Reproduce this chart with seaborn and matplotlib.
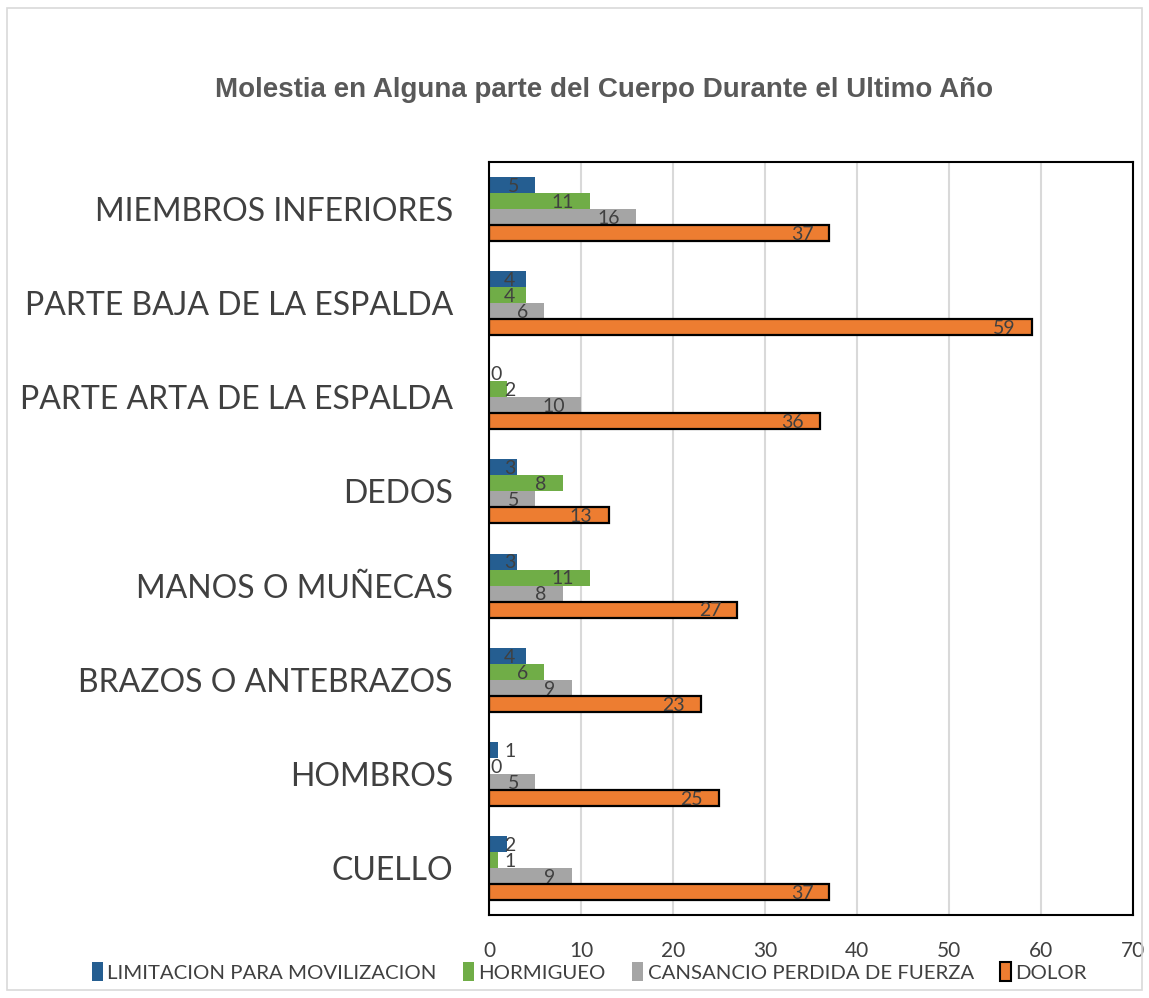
import pandas as pd
import seaborn as sns
import matplotlib.pyplot as plt
from matplotlib.patches import Rectangle, Patch

categorias = ['MIEMBROS INFERIORES', 'PARTE BAJA DE LA ESPALDA', 'PARTE ARTA DE LA ESPALDA',
              'DEDOS', 'MANOS O MUÑECAS', 'BRAZOS O ANTEBRAZOS', 'HOMBROS', 'CUELLO']
series = ['LIMITACION PARA MOVILIZACION', 'HORMIGUEO', 'CANSANCIO PERDIDA DE FUERZA', 'DOLOR']
limitacion = [5, 4, 0, 3, 3, 4, 1, 2]
hormigueo = [11, 4, 2, 8, 11, 6, 0, 1]
cansancio = [16, 6, 10, 5, 8, 9, 5, 9]
dolor = [37, 59, 36, 13, 27, 23, 25, 37]
colores = ['#255E91', '#70AD47', '#A5A5A5', '#ED7D31']

rows = []
for s, vals in zip(series, [limitacion, hormigueo, cansancio, dolor]):
    for c, v in zip(categorias, vals):
        rows.append({'categoria': c, 'serie': s, 'valor': v})
df = pd.DataFrame(rows)

sns.set_style('white')
plt.rcParams['font.family'] = ['Liberation Sans', 'DejaVu Sans']

fig = plt.figure(figsize=(11.49, 9.98), dpi=100)
ax = fig.add_axes([0.4256, 0.0832, 0.5605, 0.7545])

sns.barplot(data=df, y='categoria', x='valor', hue='serie', order=categorias,
            hue_order=series, palette=colores, orient='h', width=0.68,
            saturation=1, ax=ax, legend=False, linewidth=0)

# borde negro en DOLOR
for bar in ax.containers[3]:
    bar.set_edgecolor('black')
    bar.set_linewidth(1.6)

# etiquetas de datos (dentro del extremo, como Excel)
for cont in ax.containers:
    for bar in cont:
        v = bar.get_width()
        yc = bar.get_y() + bar.get_height() / 2
        if v == 0:
            ax.text(0.15, yc + 0.015, '0', ha='left', va='center',
                    fontsize=14, color='#404040', family='Lato')
        else:
            ax.text(max(v - 1.75, 2.85), yc + 0.015, f'{int(v)}', ha='right', va='center',
                    fontsize=14, color='#404040', family='Lato')

ax.set_xlim(0, 70)
ax.set_xticks(range(0, 71, 10))
ax.set_ylim(len(categorias) - 0.5, -0.5)
ax.xaxis.grid(True, color='#D9D9D9', linewidth=1.5)
ax.set_axisbelow(True)
for sp in ax.spines.values():
    sp.set_visible(True)
    sp.set_color('black')
    sp.set_linewidth(1.5)
ax.set_xlabel('')
ax.set_ylabel('')
ax.tick_params(axis='y', labelsize=23, colors='#404040', length=0, pad=26)
ax.tick_params(axis='x', labelsize=15, colors='#404040', length=0, pad=19)
for lbl in ax.get_yticklabels() + ax.get_xticklabels():
    lbl.set_family('Lato')

fig.text(0.526, 0.91, 'Molestia en Alguna parte del Cuerpo Durante el Ultimo Año',
         ha='center', va='center', fontsize=20, fontweight='bold', color='#595959')

handles = [Patch(facecolor=colores[i], edgecolor='black' if i == 3 else colores[i],
                 linewidth=1.5 if i == 3 else 0) for i in range(4)]
leg = fig.legend(handles, series, loc='center', bbox_to_anchor=(0.513, 0.026), ncol=4,
                 frameon=False, handlelength=0.55, handleheight=1.0, handletextpad=0.2,
                 columnspacing=1.3, prop={'family': 'Lato', 'size': 14.7})
for t in leg.get_texts():
    t.set_color('#404040')

fig.patches.append(Rectangle((0.006, 0.008), 0.988, 0.984, transform=fig.transFigure,
                             fill=False, edgecolor='#D9D9D9', linewidth=1.2))

fig.savefig('out.png', dpi=100)
